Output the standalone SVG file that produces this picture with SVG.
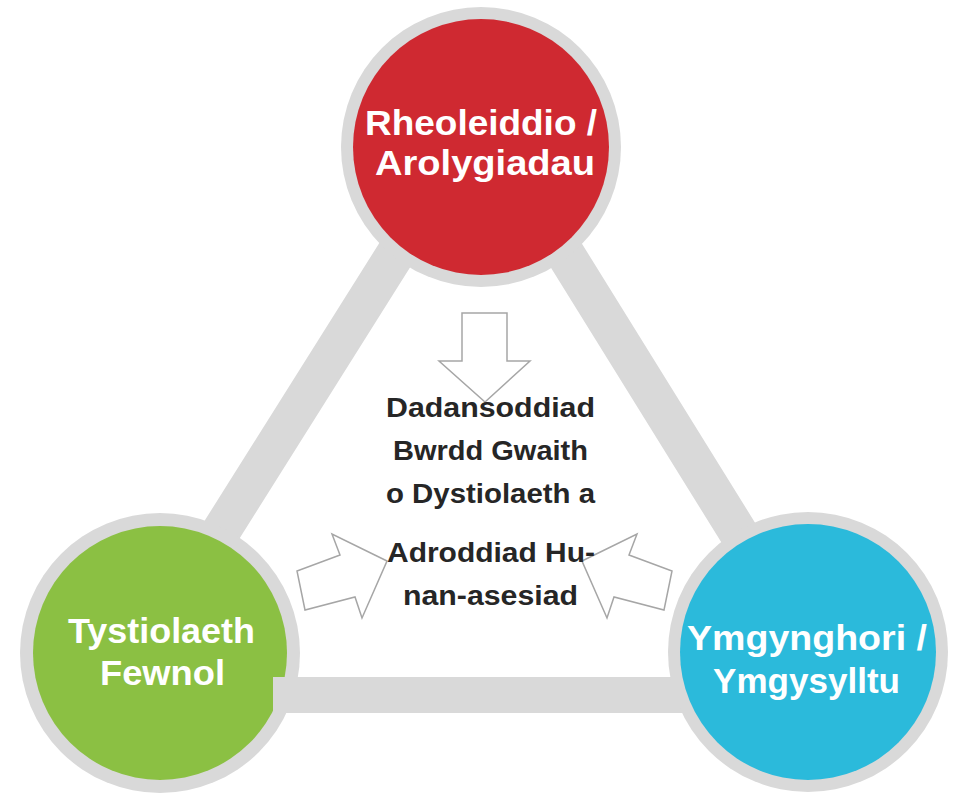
<svg xmlns="http://www.w3.org/2000/svg" width="953" height="794" viewBox="0 0 953 794">
<defs>
<style>
.ring{fill:#d9d9d9}
.bar{stroke:#d9d9d9;fill:none;stroke-width:39}
.title{font-family:"Liberation Sans",Arial,sans-serif;font-weight:bold;font-size:35px;fill:#ffffff;text-anchor:middle}
.body{font-family:"Liberation Sans",Arial,sans-serif;font-weight:bold;font-size:28px;fill:#262626;text-anchor:middle}
.arrow{fill:#ffffff;stroke:#a6a6a6;stroke-width:1.5;stroke-linejoin:miter}
</style>
</defs>
<rect width="953" height="794" fill="#ffffff"/>
<g id="connectors">
<polyline class="bar" points="118,695 481,118 839,695"/>
<rect x="273" y="677" width="420" height="36" fill="#d9d9d9"/>
</g>
<g id="node-rheoleiddio">
<circle class="ring" cx="481" cy="147" r="140"/>
<circle cx="481" cy="147" r="128" fill="#cf2931"/>
<text class="title" x="481" y="135" textLength="232" lengthAdjust="spacingAndGlyphs">Rheoleiddio /</text>
<text class="title" x="485" y="175" textLength="220" lengthAdjust="spacingAndGlyphs">Arolygiadau</text>
</g>
<g id="node-tystiolaeth">
<circle class="ring" cx="160" cy="653" r="140"/>
<circle cx="160" cy="653" r="127" fill="#8bc043"/>
<rect x="273" y="677" width="30" height="36" fill="#d9d9d9"/>
<text class="title" x="161.5" y="643" textLength="187" lengthAdjust="spacingAndGlyphs">Tystiolaeth</text>
<text class="title" x="162.5" y="685" textLength="125" lengthAdjust="spacingAndGlyphs">Fewnol</text>
</g>
<g id="node-ymgynghori">
<circle class="ring" cx="808" cy="652" r="140"/>
<circle cx="808" cy="652" r="128" fill="#2bbadb"/>
<text class="title" x="807" y="650" textLength="240" lengthAdjust="spacingAndGlyphs">Ymgynghori /</text>
<text class="title" x="806.5" y="693" textLength="187" lengthAdjust="spacingAndGlyphs">Ymgysylltu</text>
</g>
<g id="arrows">
<polygon class="arrow" points="462,313 507,313 507,361 530,361 485,402 439,361 462,361"/>
<polygon class="arrow" points="387,561 332,534 340,555 297,571 305,610 355,597 362,618"/>
<polygon class="arrow" points="582,561 637,534 629,555 672,571 664,610 614,597 607,618"/>
</g>
<g id="node-center">
<text class="body" x="490.5" y="417" textLength="209" lengthAdjust="spacingAndGlyphs">Dadansoddiad</text>
<text class="body" x="490.5" y="460" textLength="195" lengthAdjust="spacingAndGlyphs">Bwrdd Gwaith</text>
<text class="body" x="490.5" y="503" textLength="209" lengthAdjust="spacingAndGlyphs">o Dystiolaeth a</text>
<text class="body" x="491" y="562" textLength="208" lengthAdjust="spacingAndGlyphs">Adroddiad Hu-</text>
<text class="body" x="490.5" y="605" textLength="175" lengthAdjust="spacingAndGlyphs">nan-asesiad</text>
</g>
</svg>
